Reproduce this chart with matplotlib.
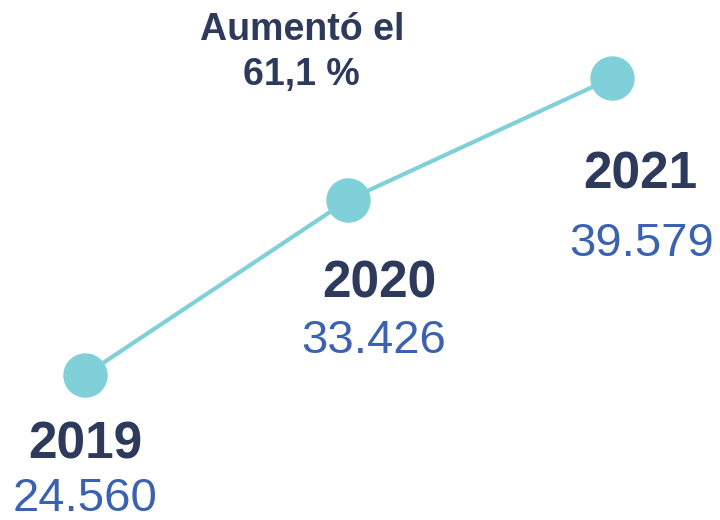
import matplotlib
matplotlib.use("Agg")
import matplotlib.pyplot as plt

years = ["2019", "2020", "2021"]
values = [24560, 33426, 39579]
value_labels = ["24.560", "33.426", "39.579"]
title_lines = ["Aumentó el", "61,1 %"]

navy = "#2E3A5C"
blue = "#3A62B0"
teal = "#7FD0D8"
fam = ["Liberation Sans", "DejaVu Sans"]

fig = plt.figure(figsize=(7.2, 5.2), dpi=100)
ax = fig.add_axes([0, 0, 1, 1])
ax.set_xlim(-0.3226, 2.41)
ax.set_ylim(17228, 43523)
ax.axis("off")

x = list(range(len(years)))
ax.plot(x, values, color=teal, lw=3.0, solid_capstyle="round", zorder=1)
ax.plot(x, values, "o", color=teal, ms=32, mec="none", zorder=2)

year_off = [(0, -70), (31, -84), (28, -97)]
val_off = [(0, -124), (25, -141), (30, -166)]
for i in range(len(years)):
    ax.annotate(years[i], (x[i], values[i]), xytext=year_off[i], textcoords="offset pixels",
                ha="center", va="center", fontsize=37, fontweight="bold", color=navy, family=fam)
    ax.annotate(value_labels[i], (x[i], values[i]), xytext=val_off[i], textcoords="offset pixels",
                ha="center", va="center", fontsize=34, color=blue, family=fam)

fig.text(302 / 720, 1 - 30 / 520, title_lines[0], ha="center", va="center",
         fontsize=27, fontweight="bold", color=navy, family=fam)
fig.text(301 / 720, 1 - 75 / 520, title_lines[1], ha="center", va="center",
         fontsize=27, fontweight="bold", color=navy, family=fam)

fig.savefig("out.png", dpi=100)
